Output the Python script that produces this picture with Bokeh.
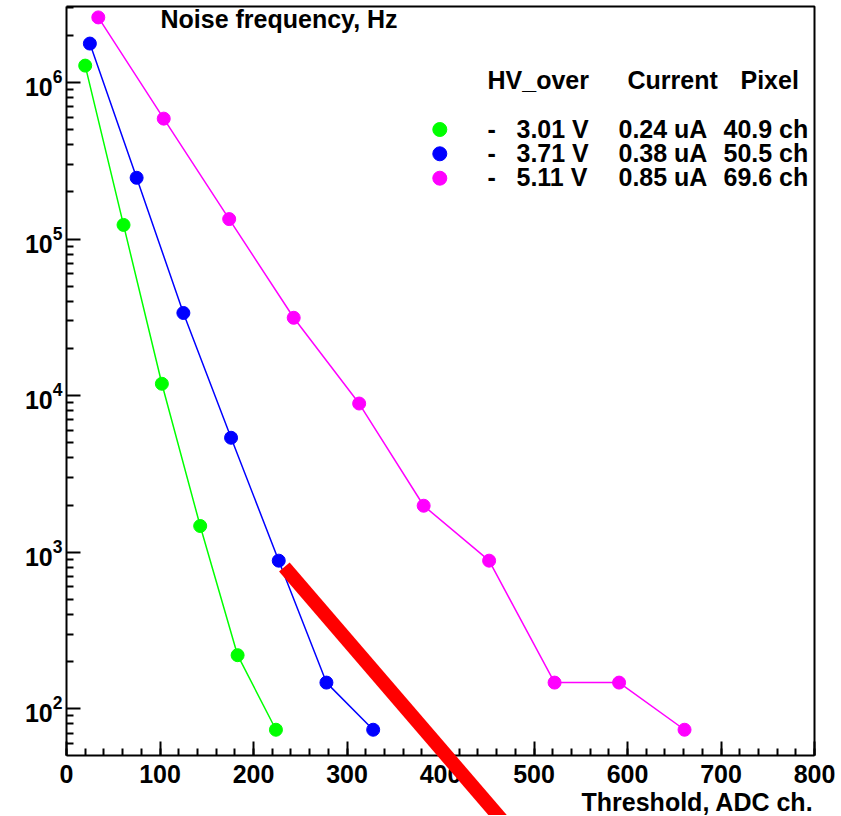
import math
from bokeh.plotting import figure
from bokeh.models import (Range1d, SingleIntervalTicker, FixedTicker, Label,
                          LinearAxis, LogAxis)
from bokeh.embed import file_html
from bokeh.resources import INLINE

# ---------------- data ----------------
green_x = [20, 61, 102, 143, 183, 224]
green_y = [1.28e6, 1.23e5, 1.19e4, 1.47e3, 220, 73.5]

blue_x = [25, 75, 125, 176, 227, 278, 328]
blue_y = [1.77e6, 2.46e5, 3.37e4, 5.38e3, 883, 147, 73.5]

magenta_x = [34, 104, 174, 243, 313, 382, 452, 522, 591, 661]
magenta_y = [2.6e6, 5.87e5, 1.34e5, 3.14e4, 8.9e3, 1.98e3, 883, 147, 147, 73.5]

series_colors = ["#00ff00", "#0000ff", "#ff00ff"]
legend_header = ["HV_over", "Current", "Pixel"]
legend_hv = ["3.01 V", "3.71 V", "5.11 V"]
legend_current = ["0.24 uA", "0.38 uA", "0.85 uA"]
legend_pixel = ["40.9 ch", "50.5 ch", "69.6 ch"]

red_line_x = [233, 482]
red_line_y = [805, 15]

y_major_ticks = [1e2, 1e3, 1e4, 1e5, 1e6]

# ---------------- layout helpers (page pixels -> data) ----------------
W, H = 840, 815
FRAME_LEFT = 66  # page x of threshold 0


def px_x(px):
    return (px - FRAME_LEFT) * 800 / 748


def px_y(py):
    return 10 ** (2 - (py - 708.3) / 156.6)


BOX_X0, BOX_X1 = 0, 800
BOX_Y0, BOX_Y1 = px_y(755), px_y(6)

FONT = "Liberation Sans"
FS = "25px"

p = figure(width=W, height=H,
           x_range=Range1d(px_x(0), px_x(W)), y_range=Range1d(px_y(H), px_y(0)),
           y_axis_type="log", x_axis_location=None, y_axis_location=None,
           output_backend="svg", toolbar_location=None,
           min_border_left=0, min_border_right=0,
           min_border_top=0, min_border_bottom=0)
p.grid.visible = False
p.outline_line_color = None
p.background_fill_color = "white"
p.border_fill_color = "white"

xaxis = LinearAxis(fixed_location=BOX_Y0, bounds=(BOX_X0, BOX_X1),
                   ticker=SingleIntervalTicker(interval=100, num_minor_ticks=5))
p.add_layout(xaxis, "below")

minor_y = [m * 10 ** e for e in range(1, 7) for m in range(2, 10)
           if BOX_Y0 <= m * 10 ** e <= BOX_Y1]
yaxis = LogAxis(fixed_location=BOX_X0, bounds=(BOX_Y0, BOX_Y1),
                ticker=FixedTicker(ticks=y_major_ticks, minor_ticks=minor_y))
p.add_layout(yaxis, "left")

for ax in (xaxis, yaxis):
    ax.axis_line_width = 2
    ax.major_tick_line_width = 2
    ax.minor_tick_line_width = 2
    ax.major_tick_out = 0
    ax.minor_tick_out = 0
    ax.major_tick_in = 14
    ax.minor_tick_in = 7
    ax.major_label_text_font = FONT
    ax.major_label_text_font_style = "bold"
    ax.major_label_text_font_size = FS
    ax.major_label_text_color = "black"
xaxis.major_label_standoff = 9
yaxis.major_label_standoff = 4

# top and right edges of the frame box
p.line([BOX_X0, BOX_X1, BOX_X1], [BOX_Y1, BOX_Y1, BOX_Y0], line_color="black", line_width=2)

# data series
for xs, ys, c in ((green_x, green_y, series_colors[0]),
                  (blue_x, blue_y, series_colors[1]),
                  (magenta_x, magenta_y, series_colors[2])):
    p.line(xs, ys, line_color=c, line_width=1.5)
    p.scatter(xs, ys, color=c, size=13)

# legend
row_centres = [129, 153.3, 177.7]
row_baselines = [137, 161.5, 185.5]
p.scatter([px_x(439.3)] * 3, [px_y(v) for v in row_centres], color=series_colors, size=14)

TEXT_SHIFT = 9  # Label baseline compensation (px)


def add_text(px, py, txt, align="left"):
    p.add_layout(Label(x=px_x(px), y=px_y(py - TEXT_SHIFT), text=txt, text_font=FONT,
                       text_font_style="bold", text_font_size=FS,
                       text_align=align, text_baseline="alphabetic", text_color="black"))


for txt, px in zip(legend_header, (487, 627, 740)):
    add_text(px, 88, txt)
for i, yb in enumerate(row_baselines):
    add_text(487, yb, "-")
    add_text(516, yb, legend_hv[i])
    add_text(618, yb, legend_current[i])
    add_text(723, yb, legend_pixel[i])

add_text(160, 27, "Noise frequency, Hz")
add_text(813, 810, "Threshold, ADC ch.", align="right")

# red annotation band (drawn above the axis)
p.line(red_line_x, red_line_y, line_color="#ff0000", line_width=14, line_cap="butt", level="overlay")

open("out.html", "w").write(file_html(p, INLINE))
